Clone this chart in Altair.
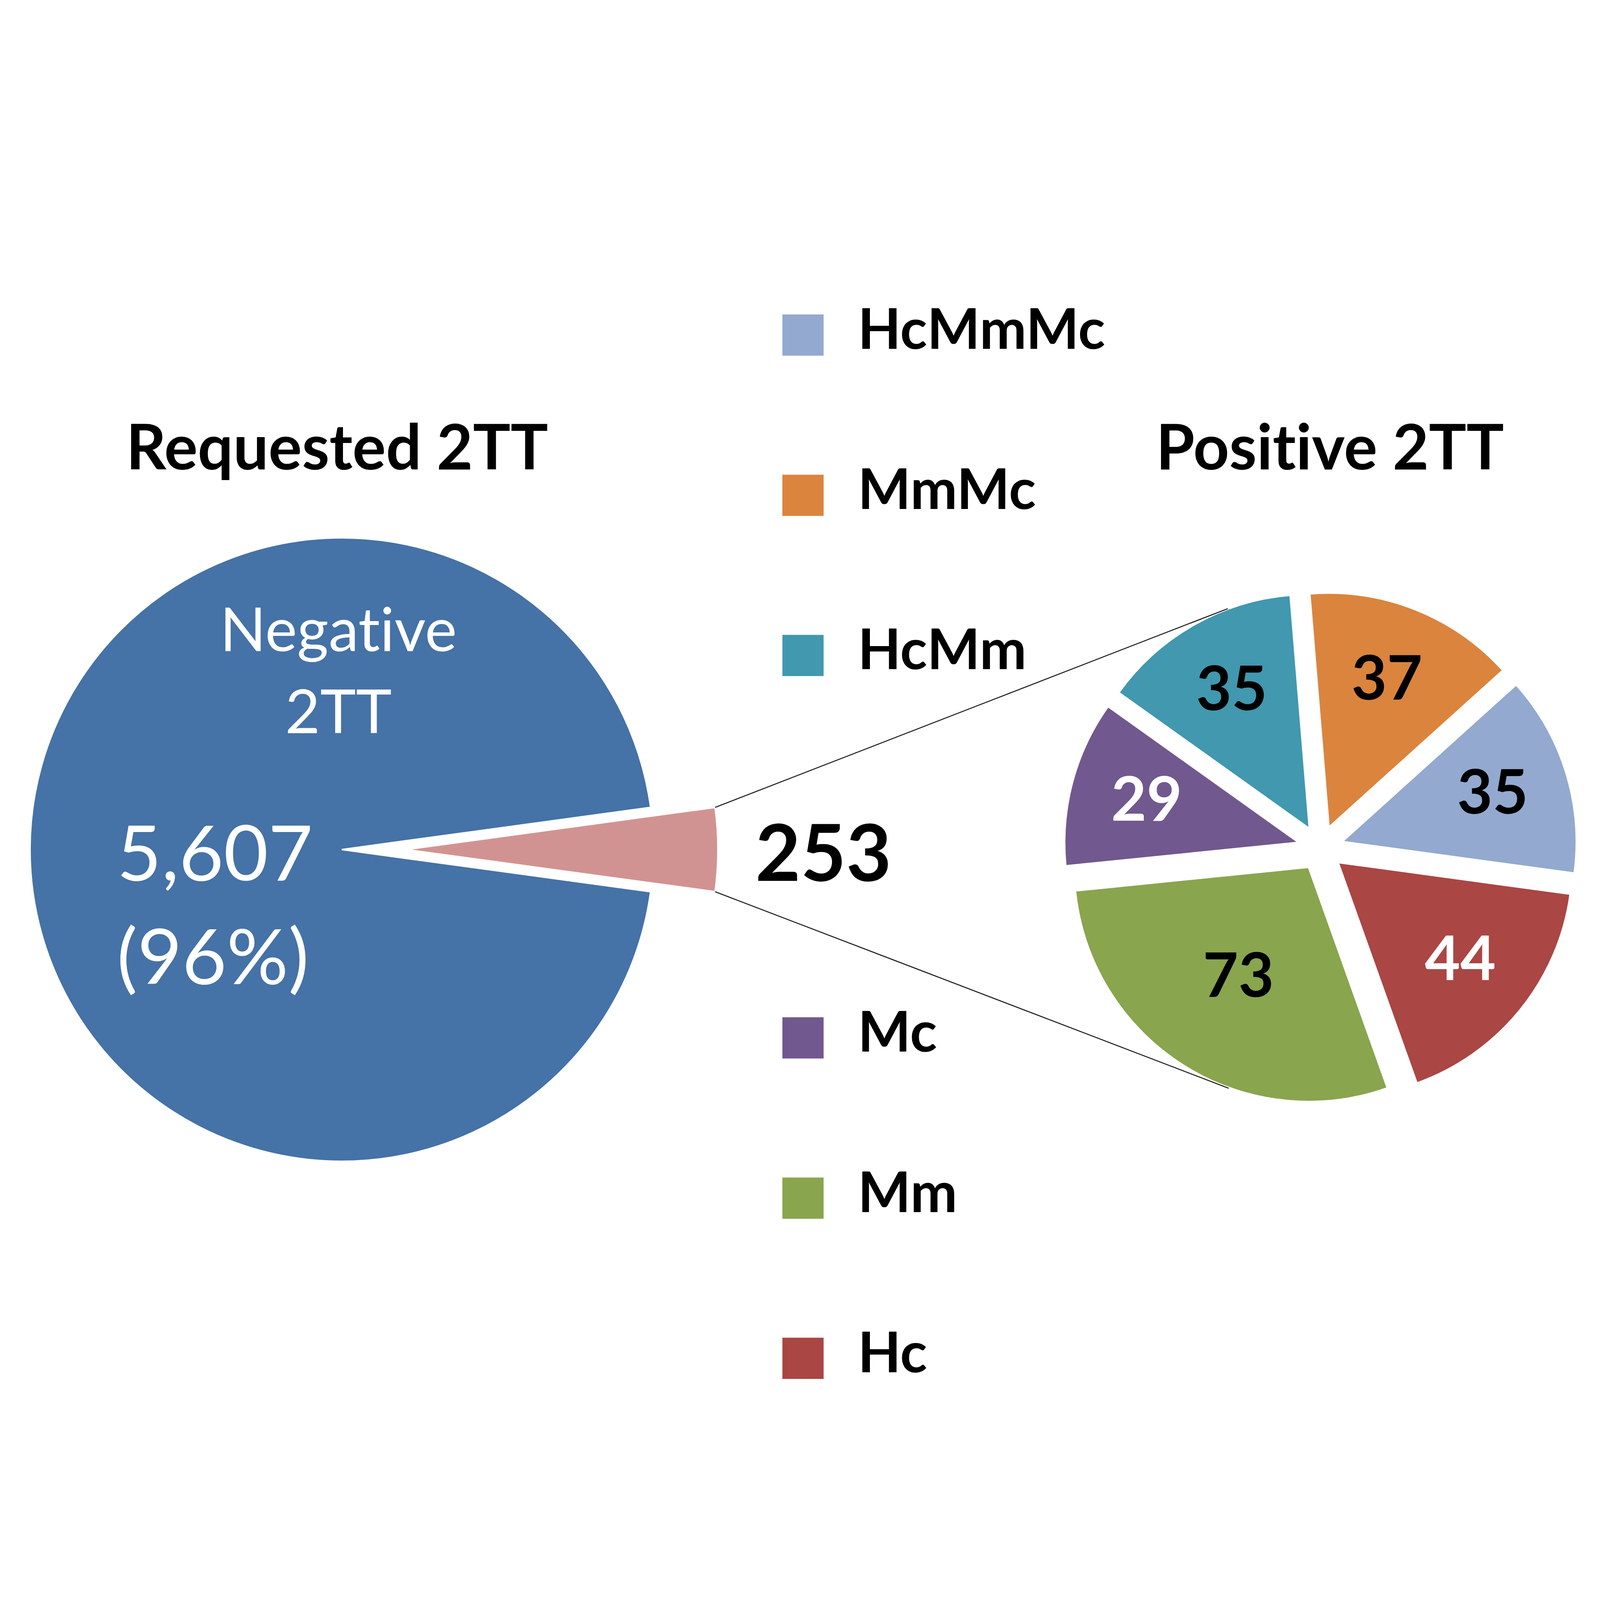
import math
import altair as alt
import pandas as pd

# ---------------- data ----------------
outer_cats = ["Positive 2TT", "Negative 2TT"]
outer_vals = [253, 5607]
inner_cats = ["MmMc", "HcMmMc", "Hc", "Mm", "Mc", "HcMm"]   # clockwise order in the right pie
inner_vals = [37, 35, 44, 73, 29, 35]
legend_cats = ["HcMmMc", "MmMc", "HcMm", "Mc", "Mm", "Hc"]
white_label_cats = ["Hc", "Mc"]
titles = ["Requested 2TT", "Positive 2TT"]
color_domain = ["Negative 2TT", "Positive 2TT", "HcMmMc", "MmMc", "HcMm", "Mc", "Mm", "Hc"]
color_range = ["#4572A7", "#D19392", "#93A9CF", "#DB843D", "#4198AF", "#71588F", "#89A54E", "#AA4643"]

# ---------------- layout (pixels) ----------------
W, H = 6109, 4301
L_CX, L_CY, L_R, L_EXP = 1298, 2175, 1195, 247
R_CX, R_CY, R_R, R_EXP = 5050, 2170, 900, 85
R_START = math.radians(-4.7)
R_LABEL = 690
R_LABEL_MM = 590          # the large slice's label sits nearer the centre ("best fit")
TITLE_Y = 718
TITLE_X = [1280, 5086]
LEG_SQ_X, LEG_TX_X = 3066, 3276
LEG_TOP0, LEG_BOT0, LEG_STEP = 203, 2897, 614
FONT = "Lato"
ZWNJ = "\u200c"  # keeps Lato from forming its "ti" ligature


def nolig(s):
    return s.replace("ti", "t" + ZWNJ + "i")


def cumulate(cats, vals):
    t0, acc = [], 0
    for v in vals:
        t0.append(acc)
        acc += v
    return pd.DataFrame({"cat": cats, "val": vals, "t0": t0,
                         "t1": [a + v for a, v in zip(t0, vals)]})


left_df = cumulate(outer_cats, outer_vals)
right_df = cumulate(inner_cats, inner_vals)
tot_l = sum(outer_vals)
tot_r = sum(inner_vals)
L_START = math.pi / 2 - outer_vals[0] / tot_l * math.pi  # small slice centred at 3 o'clock

color = alt.Color("cat:N", scale=alt.Scale(domain=color_domain, range=color_range), legend=None)
X = lambda f: alt.X(f, scale=None, axis=None)
Y = lambda f: alt.Y(f, scale=None, axis=None)

left_arc = alt.Chart(left_df).transform_calculate(
    mid=f"{L_START} + (datum.t0 + datum.t1) / 2 / {tot_l} * 2 * PI",
    ex=f"datum.cat == '{outer_cats[0]}' ? {L_EXP} : 0",
    px=f"{L_CX} + datum.ex * sin(datum.mid)",
    py=f"{L_CY} - datum.ex * cos(datum.mid)",
).mark_arc(radius=L_R, stroke="white", strokeWidth=6).encode(
    theta=alt.Theta("t0:Q", scale=alt.Scale(domain=[0, tot_l], range=[L_START, L_START + 2 * math.pi])),
    theta2="t1:Q",
    x=X("px:Q"), y=Y("py:Q"), color=color,
)

right_base = alt.Chart(right_df).transform_calculate(
    mid=f"{R_START} + (datum.t0 + datum.t1) / 2 / {tot_r} * 2 * PI",
    lr=f"datum.cat == 'Mm' ? {R_LABEL_MM} : {R_LABEL}",
    px=f"{R_CX} + {R_EXP} * sin(datum.mid)",
    py=f"{R_CY} - {R_EXP} * cos(datum.mid)",
    lx=f"{R_CX} + datum.lr * sin(datum.mid)",
    ly=f"{R_CY} - datum.lr * cos(datum.mid)",
)
right_arc = right_base.mark_arc(radius=R_R, stroke="white", strokeWidth=8).encode(
    theta=alt.Theta("t0:Q", scale=alt.Scale(domain=[0, tot_r], range=[R_START, R_START + 2 * math.pi])),
    theta2="t1:Q",
    x=X("px:Q"), y=Y("py:Q"), color=color,
)
right_lab = right_base.mark_text(font=FONT, fontWeight="bold", fontSize=235,
                                 align="center", baseline="middle").encode(
    x=X("lx:Q"), y=Y("ly:Q"), text="val:Q",
    color=alt.condition(alt.FieldOneOfPredicate(field="cat", oneOf=white_label_cats),
                        alt.value("white"), alt.value("black")),
)

# connector lines: from the small slice's outer corners, tangent to the exploded right pie
half = outer_vals[0] / tot_l * math.pi
pcx = L_CX + L_EXP
p_top = (pcx + L_R * math.cos(half), L_CY - L_R * math.sin(half))
p_bot = (pcx + L_R * math.cos(half), L_CY + L_R * math.sin(half))
rr = R_R + R_EXP


def tangent(p, upper):
    dx, dy = p[0] - R_CX, p[1] - R_CY
    d = math.hypot(dx, dy)
    phi = math.atan2(dy, dx)
    a = math.acos(rr / d)
    cands = [(R_CX + rr * math.cos(phi + s * a), R_CY + rr * math.sin(phi + s * a)) for s in (1, -1)]
    return min(cands, key=lambda c: c[1]) if upper else max(cands, key=lambda c: c[1])


t_top, t_bot = tangent(p_top, True), tangent(p_bot, False)
conn_df = pd.DataFrame({
    "x": [p_top[0], p_bot[0]], "y": [p_top[1], p_bot[1]],
    "x2": [t_top[0], t_bot[0]], "y2": [t_top[1], t_bot[1]],
})
connectors = alt.Chart(conn_df).mark_rule(color="#222222", strokeWidth=4).encode(
    x=X("x:Q"), y=Y("y:Q"), x2="x2:Q", y2="y2:Q")

# left pie texts
neg = outer_vals[1]
name_df = pd.DataFrame({"txt": [nolig(outer_cats[1]).replace(" ", "\n")],
                        "x": [L_CX - 13], "y": [L_CY - 761]})
val_df = pd.DataFrame({"txt": [f"{neg:,}\n({round(100 * neg / tot_l)}%)"],
                       "x": [L_CX - 862], "y": [L_CY + 118]})
neg_name = alt.Chart(name_df).mark_text(
    font=FONT, fontSize=232, color="white", align="center", baseline="alphabetic",
    lineBreak="\n", lineHeight=315).encode(x=X("x:Q"), y=Y("y:Q"), text="txt:N")
neg_val = alt.Chart(val_df).mark_text(
    font=FONT, fontSize=295, color="white", align="left", baseline="alphabetic",
    lineBreak="\n", lineHeight=398).encode(x=X("x:Q"), y=Y("y:Q"), text="txt:N")

# 253 label
pos_df = pd.DataFrame({"txt": [str(tot_r)], "x": [3144], "y": [2295]})
pos_txt = alt.Chart(pos_df).mark_text(font=FONT, fontWeight="bold", fontSize=300,
                                      align="center", baseline="alphabetic").encode(
    x=X("x:Q"), y=Y("y:Q"), text="txt:N")

# titles
title_df = pd.DataFrame({"txt": [nolig(t) for t in titles], "x": TITLE_X})
title_txt = alt.Chart(title_df).mark_text(font=FONT, fontWeight="bold", fontSize=240,
                                          align="center", baseline="alphabetic").encode(
    x=X("x:Q"), y=alt.value(TITLE_Y), text="txt:N")

# legend (manual, with a gap for the connector lines)
leg_df = pd.DataFrame({"cat": legend_cats, "idx": list(range(len(legend_cats)))})
leg_base = alt.Chart(leg_df).transform_calculate(
    ly=f"datum.idx < 3 ? {LEG_TOP0} + datum.idx * {LEG_STEP} : {LEG_BOT0} + (datum.idx - 3) * {LEG_STEP}"
)
leg_sq = leg_base.mark_square(size=160 * 156, opacity=1, filled=True).encode(
    x=alt.value(LEG_SQ_X), y=Y("ly:Q"), color=color)
leg_tx = leg_base.mark_text(font=FONT, fontWeight="bold", fontSize=215, align="left",
                            baseline="middle", dy=-12, color="black").encode(
    x=alt.value(LEG_TX_X), y=Y("ly:Q"), text="cat:N")

chart = alt.layer(
    left_arc, right_arc, connectors, right_lab, neg_name, neg_val, pos_txt, title_txt, leg_sq, leg_tx
).resolve_scale(theta="independent").properties(
    width=W, height=H, padding=0,
    autosize=alt.AutoSizeParams(type="fit", contains="padding"),
).configure_view(stroke=None)

chart.save("out.html", embed_options={"renderer": "svg", "actions": False})
